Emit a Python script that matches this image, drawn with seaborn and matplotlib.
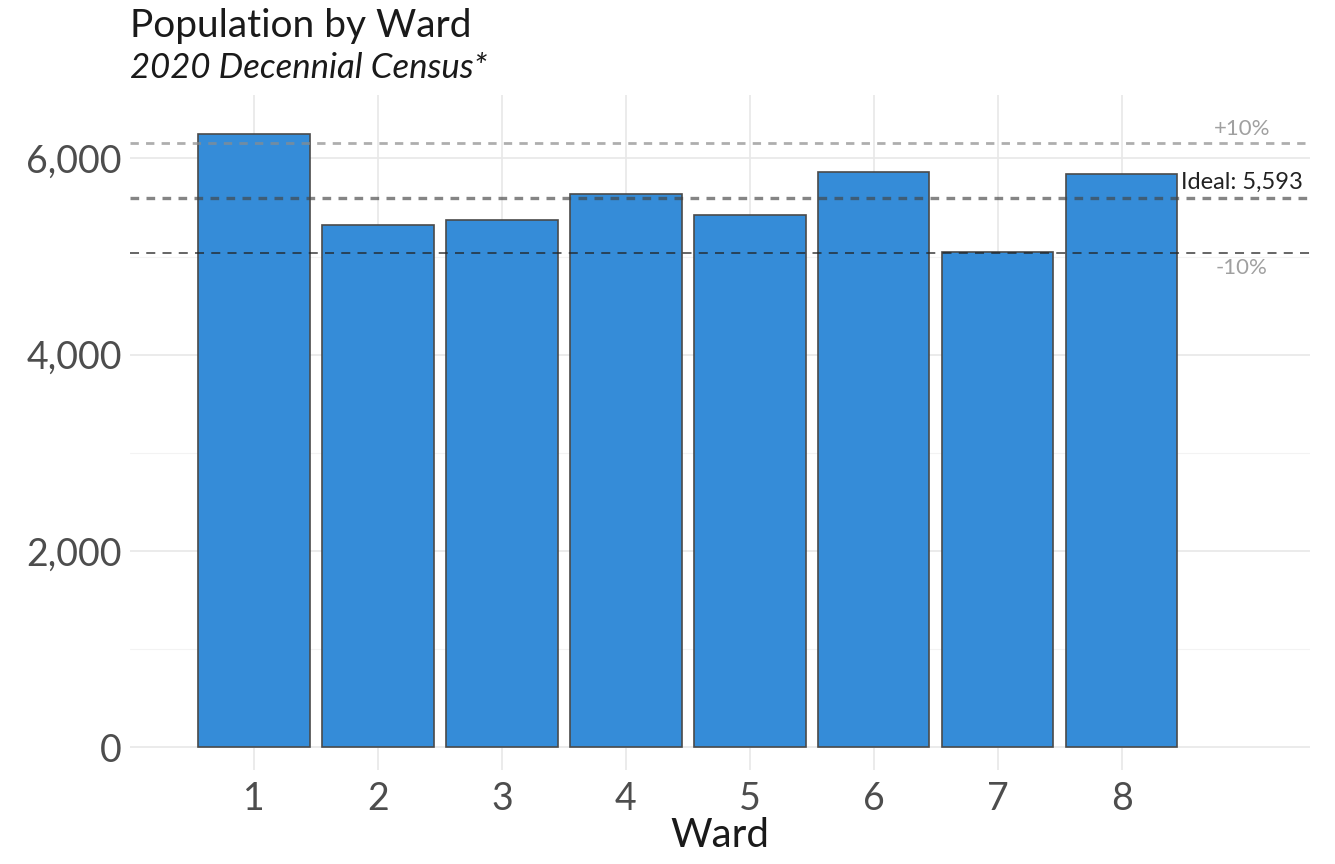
import matplotlib
matplotlib.use("Agg")
import matplotlib.pyplot as plt
import seaborn as sns
import pandas as pd

# Dados
wards = ["1", "2", "3", "4", "5", "6", "7", "8"]
population = [6244, 5318, 5376, 5634, 5427, 5858, 5049, 5838]
ideal = 5593
y_ticks = [0, 2000, 4000, 6000]
y_tick_labels = ["0", "2,000", "4,000", "6,000"]

df = pd.DataFrame({"ward": wards, "population": population})

sns.set_theme(style="white")
plt.rcParams["font.family"] = ["Lato", "DejaVu Sans"]

fig = plt.figure(figsize=(13.35, 8.64), dpi=100)
ax = fig.add_axes([130 / 1335, 94 / 864, 1180 / 1335, 675 / 864])

# grade (estilo ggplot minimal)
for v in [1000, 3000, 5000]:
    ax.axhline(v, color="#f3f3f3", lw=0.8, zorder=0)
for v in y_ticks:
    ax.axhline(v, color="#e8e8e8", lw=1.2, zorder=0)
for i in range(len(wards)):
    ax.axvline(i, color="#e8e8e8", lw=1.2, zorder=0)

sns.barplot(data=df, x="ward", y="population", color="#358cd8",
            saturation=1, width=0.9, edgecolor="#4a4a4a", linewidth=1.2,
            ax=ax, zorder=2)

# linhas de referência
upper = ideal * 1.1
lower = ideal * 0.9
ax.axhline(upper, color="#8c8c8c", lw=2, alpha=0.7, ls=(0, (3, 2.6)), zorder=3)
ax.axhline(ideal, color="#444444", lw=2.4, alpha=0.65, ls=(0, (2.6, 2.2)), zorder=3)
ax.axhline(lower, color="#222222", lw=1.3, alpha=0.75, ls=(0, (5, 4)), zorder=3)

ax.text(7.97, upper + 40, "+10%", color="#a0a0a0", fontsize=16,
        ha="center", va="bottom")
ax.text(7.48, ideal + 55, "Ideal: 5,593", color="#222222", fontsize=17,
        ha="left", va="bottom")
ax.text(7.97, lower - 45, "-10%", color="#a0a0a0", fontsize=16,
        ha="center", va="top")

ax.set_xlim(-1, 8.52)
ax.set_ylim(-230, 6645)
ax.set_yticks(y_ticks)
ax.set_yticklabels(y_tick_labels)
ax.tick_params(axis="both", labelsize=27, labelcolor="#4d4d4d", length=0, pad=6)
ax.tick_params(axis="x", pad=8)
ax.set_xlabel("Ward", fontsize=29, color="#1a1a1a", labelpad=0)
ax.set_ylabel("")
for s in ax.spines.values():
    s.set_visible(False)

fig.text(130 / 1335, 1 - 8 / 864, "Population by Ward", fontsize=28,
         color="#1a1a1a", ha="left", va="top")
fig.text(130 / 1335, 1 - 52 / 864, "2020 Decennial Census*", fontsize=25,
         style="italic", color="#1a1a1a", ha="left", va="top")

fig.savefig("out.png", dpi=100)
